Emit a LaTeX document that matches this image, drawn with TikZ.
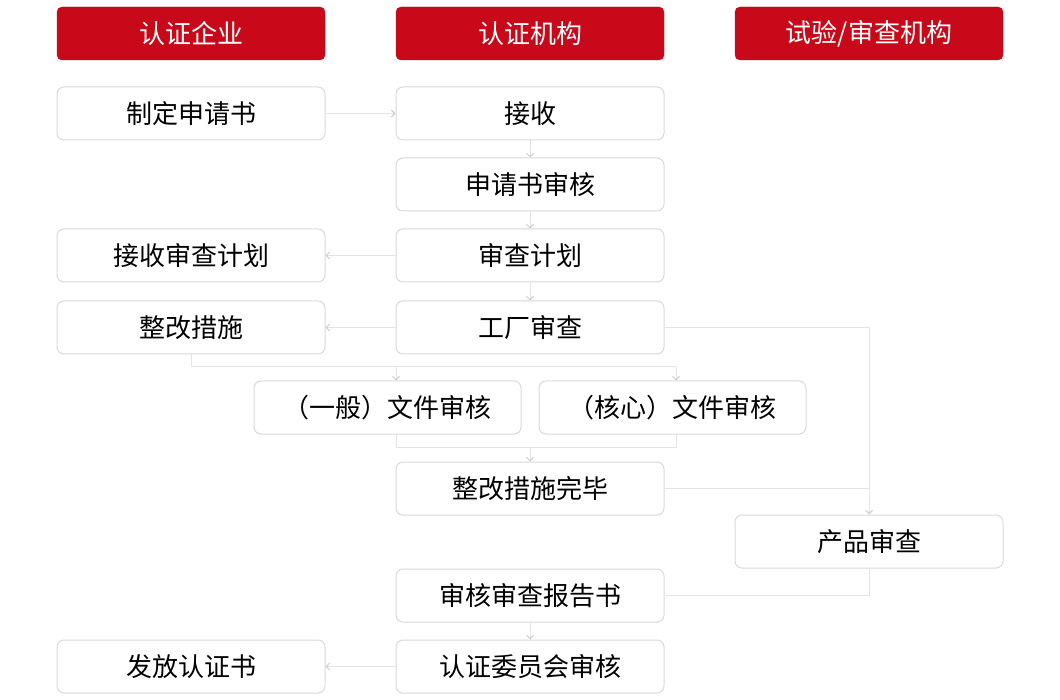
\documentclass[tikz,border=0pt]{standalone}
\usepackage{fontspec}
\setmainfont{Noto Sans CJK SC}
\usetikzlibrary{arrows.meta,calc}
\definecolor{hdred}{HTML}{C8091A}
\definecolor{bxline}{HTML}{DADADA}
\definecolor{cnline}{HTML}{E4E4E4}
\definecolor{tipgray}{HTML}{CCCCCC}
\tikzset{
  hdr/.style={rectangle, rounded corners=5pt, fill=hdred, draw=hdred, text=white,
    minimum width=268pt, minimum height=53pt, inner sep=0pt,
    font=\fontsize{26}{30}\selectfont},
  bx/.style={rectangle, rounded corners=7pt, fill=white, draw=bxline, line width=1pt,
    minimum width=268pt, minimum height=53pt, inner sep=0pt, text=black,
    font=\fontsize{26}{30}\selectfont},
  cn/.style={draw=cnline, line width=1pt},
  ar/.style={cn, -{Straight Barb[length=3.5pt,width=7pt,line width=0.9pt,color=tipgray]}},
}
\begin{document}
\begin{tikzpicture}[x=1pt,y=1pt]
\useasboundingbox[fill=white] (0,0) rectangle (1060,-700);
% headers
\node[hdr] (h1) at (191,-33.5) {认证企业};
\node[hdr] (h2) at (530,-33.5) {认证机构};
\node[hdr] (h3) at (869,-33.5) {试验/审查机构};
% boxes
\node[bx] (sq)  at (191,-113.5) {制定申请书};
\node[bx] (js)  at (530,-113.5) {接收};
\node[bx] (sh)  at (530,-184.5) {申请书审核};
\node[bx] (jj)  at (191,-255.5) {接收审查计划};
\node[bx] (jh)  at (530,-255.5) {审查计划};
\node[bx] (zg)  at (191,-327.5) {整改措施};
\node[bx] (gc)  at (530,-327.5) {工厂审查};
\node[bx, minimum width=267pt] (gen) at (387.5,-407.5) {（一般）文件审核};
\node[bx, minimum width=267pt] (core) at (672.5,-407.5) {（核心）文件审核};
\node[bx] (zw)  at (530,-488.5) {整改措施完毕};
\node[bx] (pc)  at (869,-541.5) {产品审查};
\node[bx] (bg)  at (530,-595.5) {审核审查报告书};
\node[bx] (rz)  at (191,-666.5) {发放认证书};
\node[bx] (wy)  at (530,-666.5) {认证委员会审核};
% helper coordinates
\coordinate (genin) at ([xshift=8.5pt]gen.north);
\coordinate (genout) at ([xshift=8.5pt]gen.south);
\coordinate (corein) at ([xshift=3.5pt]core.north);
\coordinate (coreout) at ([xshift=3.5pt]core.south);
\coordinate (bus1) at (0,-367);
\coordinate (bus2) at (0,-447);
% connectors
\draw[ar] (sq.east) -- (js.west);
\draw[ar] (js.south) -- (sh.north);
\draw[ar] (sh.south) -- (jh.north);
\draw[ar] (jh.west) -- (jj.east);
\draw[ar] (jh.south) -- (gc.north);
\draw[ar] (gc.west) -- (zg.east);
\draw[cn] (zg.south) |- (bus1 -| corein);
\draw[ar] (bus1 -| genin) -- (genin);
\draw[ar] (bus1 -| corein) -- (corein);
\draw[cn] (genout) |- (bus2 -| coreout) -- (coreout);
\draw[ar] (bus2 -| zw.north) -- (zw.north);
\draw[ar] (gc.east) -| (pc.north);
\draw[cn] (zw.east) -- (zw.east -| pc.north);
\draw[cn] (pc.south) |- (bg.east);
\draw[ar] (bg.south) -- (wy.north);
\draw[ar] (wy.west) -- (rz.east);
\end{tikzpicture}
\end{document}
